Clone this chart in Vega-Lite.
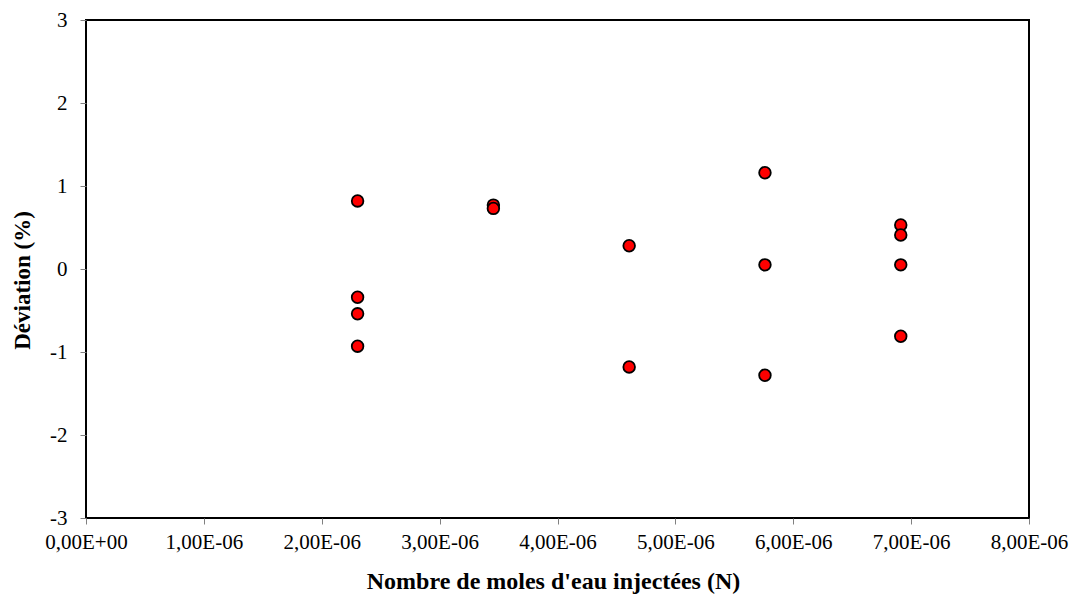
{
  "$schema": "https://vega.github.io/schema/vega-lite/v6.json",
  "width": 943,
  "height": 498,
  "autosize": {"type": "none"},
  "padding": {"left": 86, "top": 20, "right": 42, "bottom": 79},
  "background": "white",
  "config": {
    "view": {"stroke": "black", "strokeWidth": 2},
    "font": "Liberation Serif",
    "axis": {
      "labelFont": "Liberation Serif",
      "labelFontSize": 21,
      "labelColor": "black",
      "titleFont": "Liberation Serif",
      "titleColor": "black",
      "titleFontWeight": "bold",
      "grid": false,
      "domain": false,
      "ticks": true,
      "tickColor": "#808080",
      "tickSize": 6
    }
  },
  "data": {
    "values": [
      {"n": 2.304e-6, "dev": 0.82},
      {"n": 2.304e-6, "dev": -0.34},
      {"n": 2.304e-6, "dev": -0.54},
      {"n": 2.304e-6, "dev": -0.93},
      {"n": 3.456e-6, "dev": 0.77},
      {"n": 3.456e-6, "dev": 0.73},
      {"n": 4.608e-6, "dev": 0.28},
      {"n": 4.608e-6, "dev": -1.18},
      {"n": 5.76e-6, "dev": 1.16},
      {"n": 5.76e-6, "dev": 0.05},
      {"n": 5.76e-6, "dev": -1.28},
      {"n": 6.912e-6, "dev": 0.53},
      {"n": 6.912e-6, "dev": 0.41},
      {"n": 6.912e-6, "dev": 0.05},
      {"n": 6.912e-6, "dev": -0.81}
    ]
  },
  "mark": {"type": "point", "shape": "circle", "filled": true, "fill": "#ff0000", "stroke": "black", "strokeWidth": 1.8, "size": 135, "opacity": 1},
  "encoding": {
    "x": {
      "field": "n",
      "type": "quantitative",
      "scale": {"domain": [0, 8e-6], "nice": false, "zero": false},
      "axis": {
        "values": [0, 1e-6, 2e-6, 3e-6, 4e-6, 5e-6, 6e-6, 7e-6, 8e-6],
        "labelExpr": "replace(replace(replace(format(datum.value, '.2e'), '.', ','), 'e-', 'E-0'), 'e+', 'E+0')",
        "labelPadding": 7,
        "labelFlush": false,
        "labelOverlap": false,
        "title": "Nombre de moles d'eau injectées (N)",
        "titleFontSize": 24,
        "titlePadding": 17,
        "titleX": 467
      }
    },
    "y": {
      "field": "dev",
      "type": "quantitative",
      "scale": {"domain": [-3, 3], "nice": false, "zero": false},
      "axis": {
        "values": [-3, -2, -1, 0, 1, 2, 3],
        "labelExpr": "'' + datum.value",
        "labelPadding": 13,
        "labelFlush": false,
        "labelOverlap": false,
        "title": "Déviation (%)",
        "titleFontSize": 23,
        "titlePadding": 15,
        "titleY": 260
      }
    }
  }
}
